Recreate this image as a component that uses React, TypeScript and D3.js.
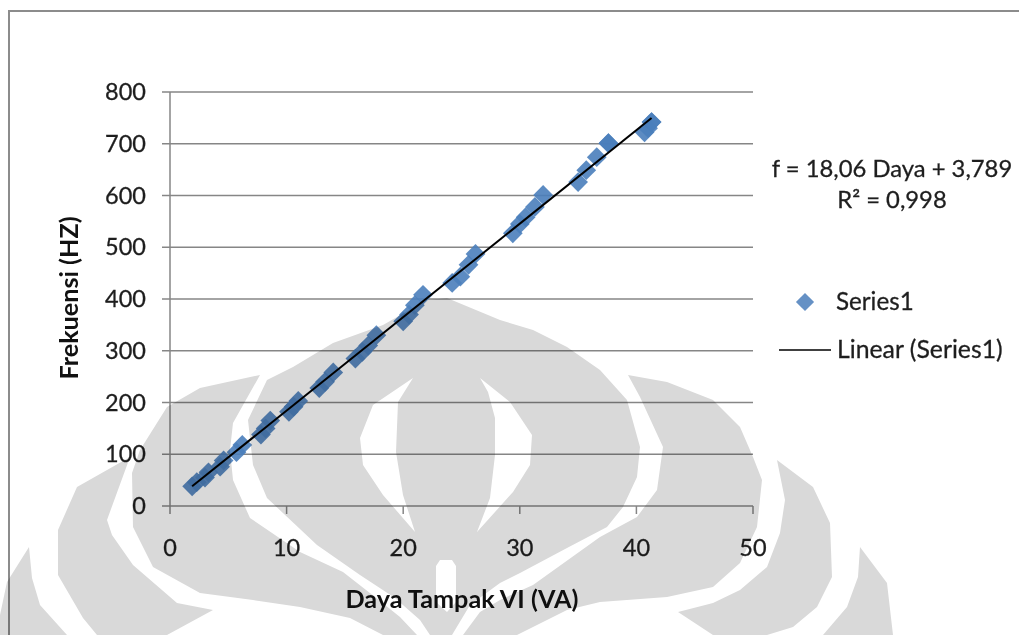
import React from "react";
import * as d3 from "d3";

const xTicks = [0, 10, 20, 30, 40, 50];
const yTicks = [0, 100, 200, 300, 400, 500, 600, 700, 800];
const dayaValues = [1.9, 2.3, 3.0, 3.3, 4.3, 4.6, 5.7, 6.2, 7.8, 8.2, 8.6, 10.2, 10.6, 11.0, 12.8, 13.3, 14.0, 15.9, 16.5, 17.0, 17.7, 20.0, 20.5, 21.0, 21.7, 24.2, 24.9, 25.6, 26.2, 29.4, 30.0, 30.5, 31.3, 32.0, 35.0, 35.7, 36.6, 37.6, 37.6, 40.7, 41.0, 41.3, 41.3];
const frekuensiValues = [38, 46, 55, 65, 76, 88, 104, 118, 138, 150, 165, 182, 192, 203, 228, 240, 258, 285, 298, 310, 330, 357, 370, 388, 408, 431, 443, 466, 487, 527, 545, 558, 578, 601, 626, 649, 674, 701, 701, 722, 730, 742, 742];
const trendSlope = 18.06;
const trendIntercept = 3.789;
const trendDomain = [1.9, 41.3];
const equationLines = ["f = 18,06 Daya + 3,789", "R² = 0,998"];
const legendLabels = ["Series1", "Linear (Series1)"];

type P = [number, number];
const wmDome: P[] = [[447,298],[427,300],[383,325],[333,343],[293,367],[267,380],[248,420],[253,465],[267,498],[317,545],[360,575],[395,598],[420,620],[430,635],[452,635],[470,605],[500,583],[520,573],[567,548],[607,527],[623,507],[637,477],[640,447],[627,400],[600,370],[567,347],[533,330],[500,320]];
const wmEyeL: P[] = [[413,378],[373,405],[360,438],[363,465],[383,495],[415,532],[403,495],[396,452],[398,402]];
const wmEyeR: P[] = [[480,378],[510,402],[532,435],[530,465],[513,492],[477,532],[490,498],[495,455],[495,418],[488,392]];
const wmSlot: P[] = [[436,566],[440,560],[452,560],[456,566],[456,602],[447,612],[436,602]];
const wmE: P[] = [[260,375],[200,388],[167,407],[140,450],[132,473],[133,527],[153,567],[200,593],[253,600],[300,607],[350,618],[383,635],[417,635],[400,617],[375,597],[343,572],[300,552],[250,518],[233,480],[230,450],[233,423]];
const wmD: P[] = [[628,375],[667,382],[713,400],[740,427],[753,457],[762,480],[757,527],[740,563],[713,587],[667,597],[600,602],[567,610],[517,635],[463,635],[480,612],[500,600],[533,585],[600,537],[637,517],[657,490],[663,447],[640,397]];
const wmF: P[] = [[130,457],[77,487],[58,530],[58,575],[83,618],[97,635],[167,635],[213,610],[177,603],[133,565],[112,535],[107,520]];
const wmFr: P[] = [[777,460],[813,487],[830,523],[832,577],[817,607],[793,627],[767,635],[713,635],[678,612],[713,603],[740,590],[767,567],[780,533],[785,500]];
const wmG: P[] = [[29,547],[7,582],[0,615],[0,635],[67,635],[40,605],[32,578]];
const wmGr: P[] = [[860,547],[887,583],[893,635],[823,635],[847,607],[858,577]];
const watermarkPolys = [wmDome, wmEyeL, wmEyeR, wmSlot, wmE, wmD, wmF, wmFr, wmG, wmGr];

const FONT = "Lato, Carlito, sans-serif";
const TXT = "#1e1e1e";
const GRID = "#868686";
const thick = { stroke: TXT, strokeWidth: 0.3 };

export default function App() {
  const x = d3.scaleLinear().domain([0, 50]).range([170, 753]);
  const y = d3.scaleLinear().domain([0, 800]).range([506, 92]);
  const diamond = d3.symbol().type(d3.symbolSquare).size(195)() as string;
  const legendDiamond = d3.symbol().type(d3.symbolSquare).size(165)() as string;
  const wmLine = d3.line();
  const watermark = watermarkPolys.map((p) => wmLine(p) + "Z").join(" ");
  const trend = d3.line<number>().x((d) => x(d)).y((d) => y(trendSlope * d + trendIntercept))(trendDomain) as string;

  return (
    <svg width={1019} height={635} style={{ position: "absolute", left: 0, top: 0, display: "block" }} fontFamily={FONT}>
      <rect width={1019} height={635} fill="#fff" />
      <path d="M9,635V11H1019" fill="none" stroke="#8c8c8c" strokeWidth={2} />
      {yTicks.map((t) => (
        <g key={t}>
          <line x1={162} x2={753} y1={y(t)} y2={y(t)} stroke={GRID} strokeWidth={1.5} />
          <text x={146} y={y(t) + 8} textAnchor="end" fontSize={23.5} fill={TXT} {...thick}>{t}</text>
        </g>
      ))}
      <line x1={170} x2={170} y1={92} y2={506} stroke={GRID} strokeWidth={1.5} />
      {xTicks.map((t) => (
        <g key={t}>
          <line x1={x(t)} x2={x(t)} y1={506} y2={514} stroke={GRID} strokeWidth={1.5} />
          <text x={x(t)} y={556} textAnchor="middle" fontSize={23.5} fill={TXT} {...thick}>{t}</text>
        </g>
      ))}
      {dayaValues.map((d, i) => (
        <path key={i} d={diamond} transform={`translate(${x(d)},${y(frekuensiValues[i])}) rotate(45)`} fill="#4a7ebb" fillOpacity={0.9} />
      ))}
      <path d={trend} fill="none" stroke="#000" strokeWidth={2} />
      <text x={462} y={608} textAnchor="middle" fontSize={25.2} fontWeight={700} fill="#111">Daya Tampak VI (VA)</text>
      <text transform="translate(78,298) rotate(-90)" textAnchor="middle" fontSize={25.2} fontWeight={700} fill="#111">Frekuensi (HZ)</text>
      <text x={892} y={177} textAnchor="middle" fontSize={23.8} fill={TXT} {...thick}>{equationLines[0]}</text>
      <text x={892} y={208} textAnchor="middle" fontSize={23.8} fill={TXT} {...thick}>{equationLines[1]}</text>
      <path d={legendDiamond} transform="translate(805,302) rotate(45)" fill="#4a7ebb" fillOpacity={0.85} />
      <text x={836} y={310} fontSize={24.2} fill={TXT} {...thick}>{legendLabels[0]}</text>
      <line x1={779} x2={831} y1={350} y2={350} stroke="#000" strokeWidth={1.5} />
      <text x={837} y={358} fontSize={24.8} fill={TXT} {...thick}>{legendLabels[1]}</text>
      <path d={watermark} fill="#d9d9d9" fillRule="evenodd" style={{ mixBlendMode: "multiply" }} />
    </svg>
  );
}
